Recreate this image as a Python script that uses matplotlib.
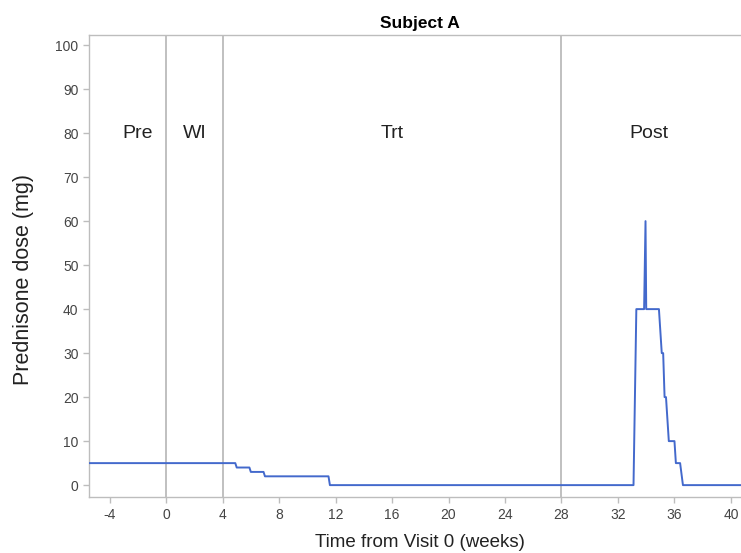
import matplotlib
matplotlib.use("Agg")
import matplotlib.pyplot as plt

plt.rcParams['font.family'] = ['Liberation Sans', 'DejaVu Sans']
plt.rcParams['axes.unicode_minus'] = False

# Data
weeks = [-5.6, 4.9, 5.0, 5.9, 6.0, 6.9, 7.0, 11.5, 11.6, 33.1, 33.3,
         33.85, 33.95, 34.0, 34.9, 35.1, 35.2, 35.3, 35.4, 35.6, 35.7,
         36.0, 36.1, 36.4, 36.6, 41.5]
dose = [5, 5, 4, 4, 3, 3, 2, 2, 0, 0, 40,
        40, 60, 40, 40, 30, 30, 20, 20, 10, 10,
        10, 5, 5, 0, 0]
phase_bounds = [0, 4, 28]
phase_labels = ["Pre", "WI", "Trt", "Post"]
phase_label_x = [-2.0, 2.0, 16.0, 34.2]
xticks = [-4, 0, 4, 8, 12, 16, 20, 24, 28, 32, 36, 40]
yticks = [0, 10, 20, 30, 40, 50, 60, 70, 80, 90, 100]

fig = plt.figure(figsize=(7.41, 5.53), dpi=100)
ax = fig.add_axes([89 / 741, 1 - 497 / 553, 662 / 741, 462 / 553])

grey = '#bdbdbd'
for b in phase_bounds:
    ax.axvline(b, color='#b5b5b5', lw=1.2, zorder=1)

ax.plot(weeks, dose, color='#4369cc', lw=1.4, zorder=3)

for lab, x in zip(phase_labels, phase_label_x):
    ax.text(x, 80, lab, ha='center', va='center', fontsize=14, color='#222222')

ax.set_xlim(-5.46, 41.42)
ax.set_ylim(-2.7, 102.3)
ax.set_xticks(xticks)
ax.set_yticks(yticks)
ax.tick_params(labelsize=10, labelcolor='#444444', length=4.5, color=grey, width=1.0)
ax.tick_params(axis='x', pad=3.5)
ax.tick_params(axis='y', pad=3)
ax.spines['right'].set_visible(False)
for s in ax.spines.values():
    s.set_color(grey)
    s.set_linewidth(1.0)

ax.set_xlabel("Time from Visit 0 (weeks)", fontsize=13.5, color='#222222', labelpad=8.5)
ax.set_ylabel("Prednisone dose (mg)", fontsize=15.5, color='#222222')
ax.yaxis.set_label_coords(-55 / 662, 0.47)
ax.set_title("Subject A", fontsize=12.5, fontweight='bold', pad=5)

fig.savefig("out.png", dpi=100)
